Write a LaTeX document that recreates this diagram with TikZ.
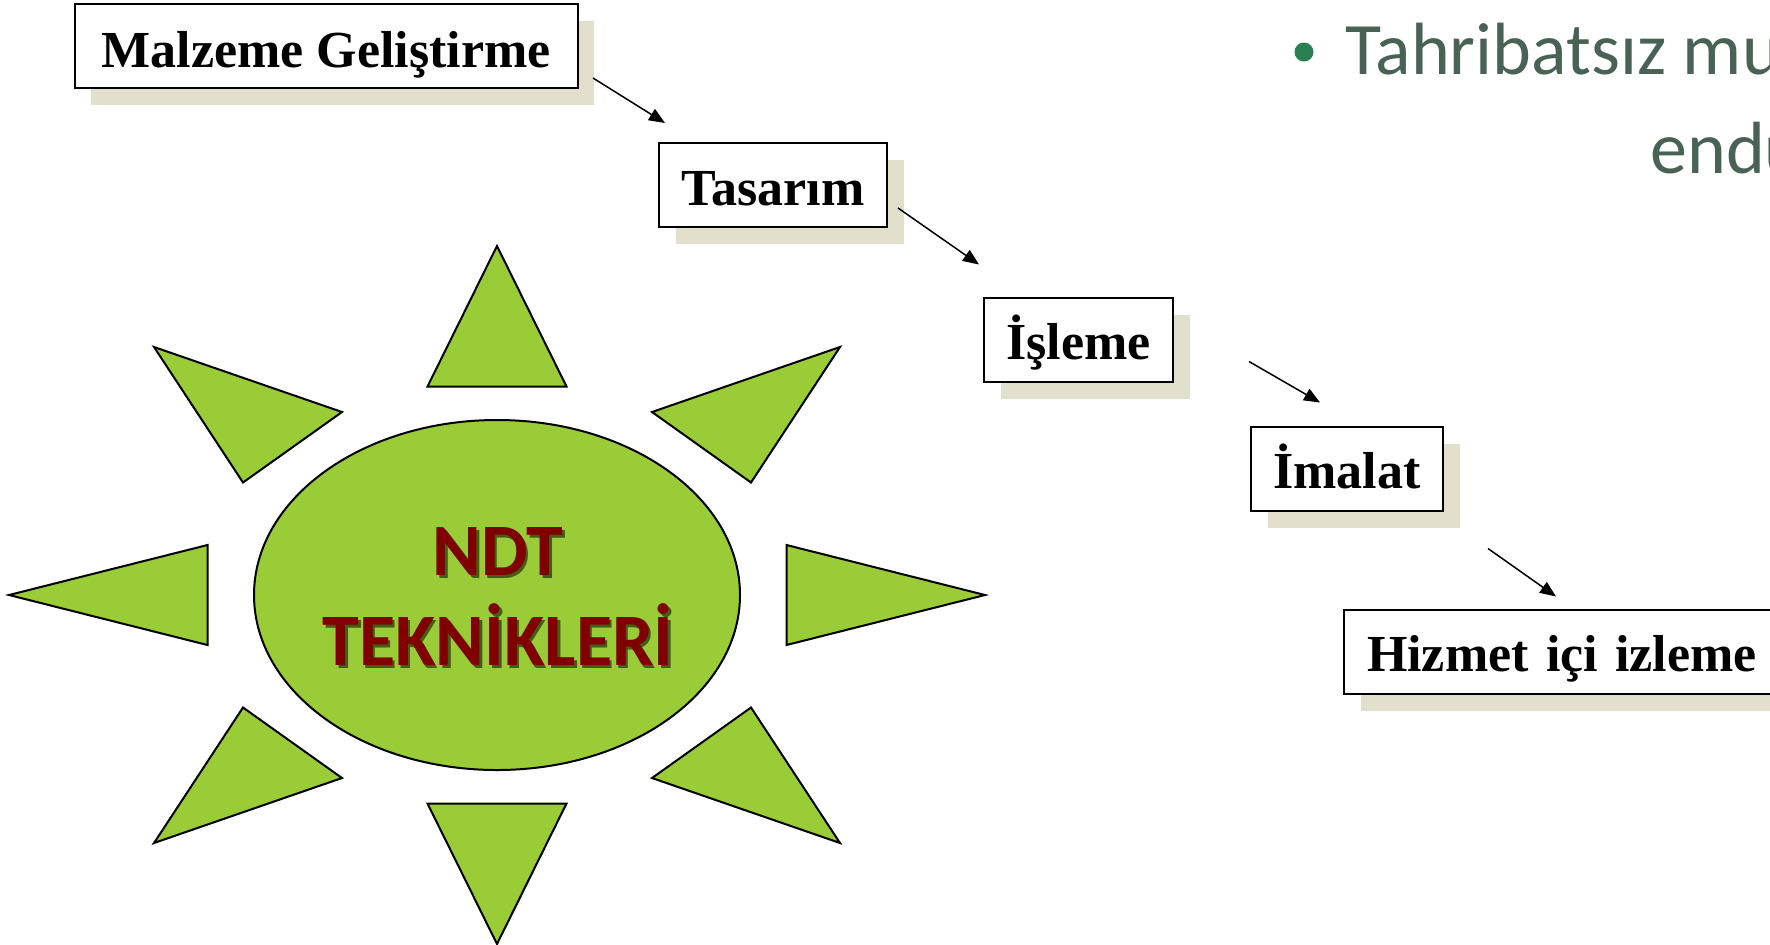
\documentclass[tikz,border=0pt]{standalone}
\usepackage{fontspec}
\setmainfont{Liberation Serif}
\newfontfamily\slidefont{Carlito}
\usetikzlibrary{shapes.geometric,shadows,arrows.meta,calc}

\definecolor{sungreen}{RGB}{154,204,56}
\definecolor{shadowbeige}{RGB}{226,223,204}
\definecolor{ndtred}{RGB}{128,0,0}
\definecolor{slidetext}{RGB}{72,98,84}
\definecolor{bulletgreen}{RGB}{42,128,82}

\begin{document}
\begin{tikzpicture}[x=0.5pt, y=-0.5pt,
  stage/.style={draw=black, line width=1pt, fill=white, inner sep=0pt,
    minimum height=42pt, text height=20pt, text depth=0pt,
    font=\fontsize{26}{31}\selectfont\bfseries,
    drop shadow={shadow xshift=8.25pt, shadow yshift=-8.5pt, fill=shadowbeige, opacity=1}},
  flow/.style={line width=0.75pt, -{Triangle[length=8pt,width=6.5pt]}},
  ray/.style={draw=black, line width=1pt, fill=sungreen},
  ndtlabel/.style={align=center, inner sep=0pt,
    font=\slidefont\fontsize{37}{45}\selectfont\bfseries},
  bullettext/.style={anchor=base west, inner sep=0pt, text=slidetext,
    font=\slidefont\fontsize{37}{45}\selectfont}]

  % --- page
  \clip (0,0) rectangle (1770,944);
  \fill[white] (0,0) rectangle (1770,944);

  % --- sun: rays around the ellipse
  \begin{scope}[shift={(497,595)}]
    \foreach \s in {-1,1}{
      % vertical rays
      \draw[ray] (0,\s*349) -- (-69.5,\s*208.5) -- (69.5,\s*208.5) -- cycle;
      % horizontal rays
      \draw[ray] (\s*488,0) -- (\s*289.5,-50) -- (\s*289.5,50) -- cycle;
    }
    \foreach \sx in {-1,1}
      \foreach \sy in {-1,1}
        \draw[ray] (\sx*343,\sy*248) -- (\sx*155,\sy*183) -- (\sx*254,\sy*112.5) -- cycle;
  \end{scope}

  % --- sun body and its label
  \node[ellipse, ray, minimum width=243pt, minimum height=175pt] (sun) at (497,595) {};
  \node[ndtlabel, text=black, opacity=0.55] at ($(sun.center)+(3.5,4)$) {NDT\\TEKNİKLERİ};
  \node[ndtlabel, text=ndtred] (ndt) at ($(sun.center)+(1,1.5)$) {NDT\\TEKNİKLERİ};

  % --- stages
  \node[stage, minimum width=251.5pt, text height=21pt] (malz) at (326,46) {Malzeme Geliştirme};
  \node[stage, minimum width=114pt] (tas) at (773,185) {Tasarım};
  \node[stage, minimum width=94.5pt] (isl) at (1078.5,339.5) {İşleme};
  \node[stage, minimum width=96pt] (ima) at (1347,468.5) {İmalat};
  \node[stage, anchor=west, inner xsep=11.5pt, text width=200.5pt, align=left]
    (hiz) at (1343,651.5) {Hizmet içi izleme};

  % --- arrows between stages
  \draw[flow] ($(malz.south east)+(14.5,-11)$) -- ($(tas.north west)+(7,-19)$);
  \draw[flow] ($(tas.south east)+(10,-20)$) -- ($(isl.north west)+(-4,-32)$);
  \draw[flow] ($(isl.south east)+(75,-21)$) -- ($(ima.north west)+(70,-23)$);
  \draw[flow] ($(ima.south east)+(44,37)$) -- ($(hiz.north west)+(213,-12)$);

  % --- bullet text
  \node[circle, fill=bulletgreen, inner sep=0pt, minimum size=9.5pt] (dot) at (1304,52) {};
  \node[bullettext] (line1) at (1345,74) {Tahribatsız mu};
  \node[bullettext] (line2) at (1650,173) {endu};
\end{tikzpicture}
\end{document}
